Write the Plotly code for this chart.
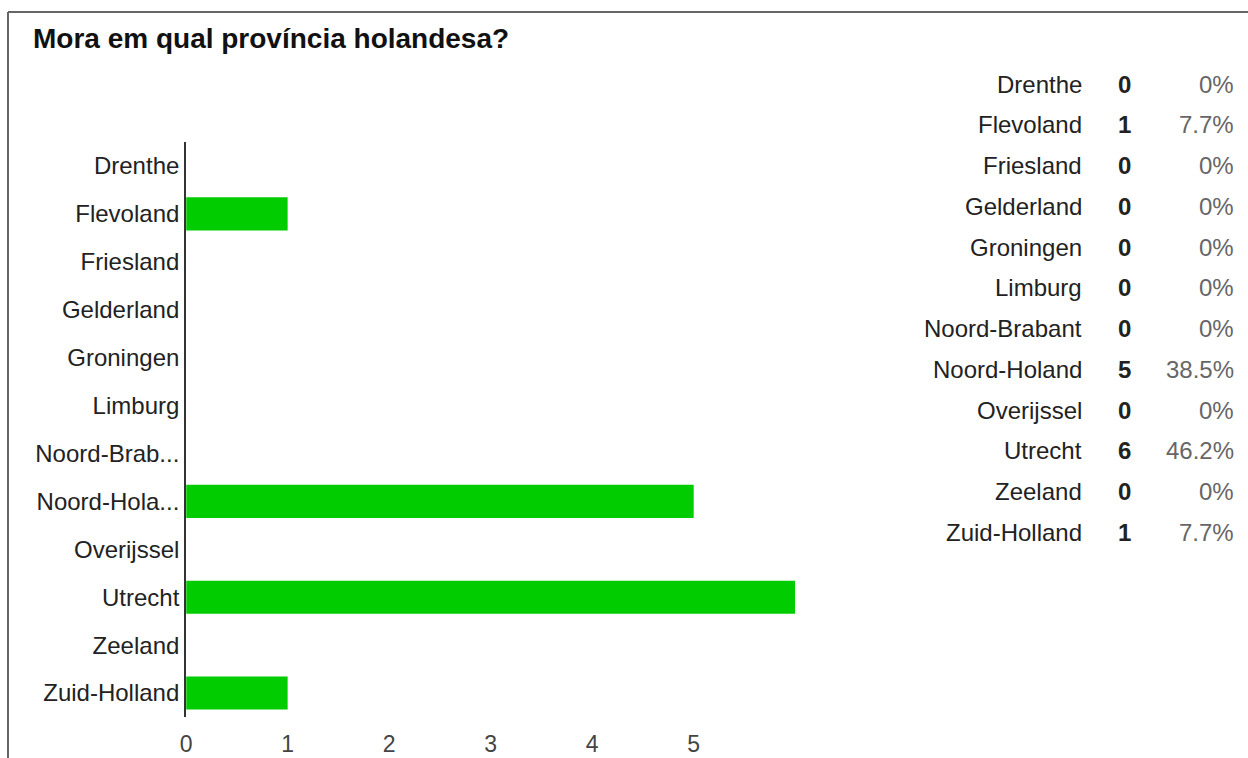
import plotly.graph_objects as go

# Survey question and answers
title_text = "Mora em qual província holandesa?"
provinces = ["Drenthe", "Flevoland", "Friesland", "Gelderland", "Groningen", "Limburg",
             "Noord-Brabant", "Noord-Holand", "Overijssel", "Utrecht", "Zeeland", "Zuid-Holland"]
axis_labels = ["Drenthe", "Flevoland", "Friesland", "Gelderland", "Groningen", "Limburg",
               "Noord-Brab...", "Noord-Hola...", "Overijssel", "Utrecht", "Zeeland", "Zuid-Holland"]
counts = [0, 1, 0, 0, 0, 0, 0, 5, 0, 6, 0, 1]
x_ticks = [0, 1, 2, 3, 4, 5]

W, H = 1248, 758
FONT = "Liberation Sans, Arial, sans-serif"
TEXT = "#222222"
FS = 24

total = sum(counts)


def pct_label(n):
    if n == 0:
        return "0%"
    return f"{100 * n / total:.1f}%"


def px_x(v):
    return v / W


def px_y(v):
    return 1 - v / H


fig = go.Figure(
    go.Bar(
        x=counts,
        y=provinces,
        orientation="h",
        marker=dict(color="#00CC00", line=dict(width=0)),
        hoverinfo="skip",
    )
)

fig.update_layout(
    width=W,
    height=H,
    margin=dict(l=0, r=0, t=0, b=0),
    paper_bgcolor="white",
    plot_bgcolor="white",
    showlegend=False,
    bargap=0.31,
    font=dict(family=FONT, color=TEXT, size=FS),
    xaxis=dict(
        domain=[px_x(181), px_x(793)],
        range=[0, 6],
        tickvals=x_ticks,
        ticktext=[str(t) for t in x_ticks],
        showgrid=False,
        zeroline=False,
        showline=False,
        ticks="outside",
        ticklen=6,
        tickcolor="rgba(0,0,0,0)",
        tickfont=dict(size=23, color="#444444"),
    ),
    yaxis=dict(
        domain=[px_y(717), px_y(142)],
        categoryorder="array",
        categoryarray=provinces,
        autorange="reversed",
        tickvals=provinces,
        ticktext=axis_labels,
        showgrid=False,
        zeroline=False,
        showline=True,
        linecolor="#333333",
        linewidth=2,
        ticks="",
        tickfont=dict(size=FS, color=TEXT),
    ),
)

# Frame around the card
fig.add_shape(type="line", xref="paper", yref="paper",
              x0=px_x(2), x1=1, y0=px_y(12), y1=px_y(12),
              line=dict(color="#666666", width=2))
fig.add_shape(type="line", xref="paper", yref="paper",
              x0=px_x(2), x1=px_x(2), y0=px_y(12), y1=0,
              line=dict(color="#666666", width=2))

# Title
fig.add_annotation(text=f"<b>{title_text}</b>", xref="paper", yref="paper",
                   x=px_x(25), y=px_y(38), xanchor="left", yanchor="middle",
                   showarrow=False, font=dict(size=28, color="#111111", family=FONT))

# Summary table: province, count, share
row0, row_step = 84, 40.75
for i, (name, n) in enumerate(zip(provinces, counts)):
    yy = px_y(row0 + i * row_step)
    fig.add_annotation(text=name, xref="paper", yref="paper", x=px_x(1083), y=yy,
                       xanchor="right", yanchor="middle", showarrow=False,
                       font=dict(size=FS, color=TEXT, family=FONT))
    fig.add_annotation(text=f"<b>{n}</b>", xref="paper", yref="paper", x=px_x(1124), y=yy,
                       xanchor="center", yanchor="middle", showarrow=False,
                       font=dict(size=FS, color=TEXT, family=FONT))
    fig.add_annotation(text=pct_label(n), xref="paper", yref="paper", x=px_x(1236), y=yy,
                       xanchor="right", yanchor="middle", showarrow=False,
                       font=dict(size=FS, color="#666666", family=FONT))

fig.write_html("out.html")
